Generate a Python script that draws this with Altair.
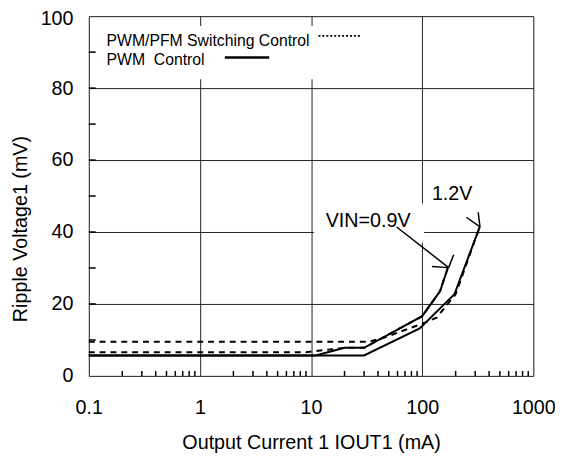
import altair as alt
import pandas as pd

# ---- data ----
I_pwm09 = [0.1, 11, 20, 30, 100, 145, 170]
V_pwm09 = [5.7, 5.7, 7.8, 7.8, 16.6, 23.6, 30.0]
I_pwm12 = [0.1, 30, 95, 195, 330]
V_pwm12 = [5.7, 5.7, 13.2, 22.7, 41.5]
I_pfm09 = [0.1, 9, 20, 30, 100, 145, 170]
V_pfm09 = [6.6, 6.6, 7.8, 7.8, 16.6, 23.6, 30.0]
I_pfm12 = [0.1, 33, 45, 100, 135, 200, 330]
V_pfm12 = [9.5, 9.5, 10.6, 14.5, 16.2, 22.7, 41.5]

x_ticks_major = [0.1, 1, 10, 100, 1000]
x_ticks_minor = [k * 10.0 ** d for d in range(-1, 3) for k in range(2, 10)]
y_ticks_major = [0, 20, 40, 60, 80, 100]
y_ticks_minor = [10, 20, 30, 40, 50, 60, 70, 80, 90]

# annotation arrows (segments, data coordinates)
arrow_x1 = [58.9, 173, 173, 331, 331]
arrow_y1 = [41.4, 30.1, 30.1, 41.4, 41.4]
arrow_x2 = [173, 122.5, 192, 250, 319]
arrow_y2 = [30.1, 30.4, 33.7, 44.1, 45.5]

labels_text = ["VIN=0.9V", "1.2V"]
labels_x = [32.6, 186]
labels_y = [41.4, 49.0]

legend_text = ["PWM/PFM Switching Control", "PWM\u00a0 Control"]
y_title = "Ripple Voltage1 (mV)"
x_title = "Output Current 1 IOUT1 (mA)"

W, H = 451, 365
FONT = "Liberation Sans"

xs = alt.Scale(type="log", domain=[0.1, 1000])
ys = alt.Scale(domain=[0, 100])

xaxis = alt.Axis(values=x_ticks_major, format="~g", grid=True, gridColor="#222",
                 gridWidth=1, ticks=False, tickSize=0, domain=False, labelFlush=False,
                 labelFont=FONT, labelFontSize=20, labelColor="black", labelPadding=22,
                 title=x_title, titleFont=FONT, titleFontSize=20,
                 titleFontWeight="normal", titleColor="black", titlePadding=16)
yaxis = alt.Axis(values=y_ticks_major, grid=True, gridColor="#222", gridWidth=1,
                 ticks=False, tickSize=0, domain=False, labelFlush=False,
                 labelOffset={"condition": {"test": "datum.value == 100", "value": 2}, "value": 0},
                 labelFont=FONT, labelFontSize=20, labelColor="black", labelPadding=16,
                 title="")

def series(I, V, name):
    return pd.DataFrame({"I": I, "V": V, "s": name, "o": range(len(I))})

base_axes = alt.Chart(pd.DataFrame({"I": [0.1, 1000], "V": [0, 100]})).mark_point(opacity=0).encode(
    x=alt.X("I:Q", scale=xs, axis=xaxis),
    y=alt.Y("V:Q", scale=ys, axis=yaxis),
)

ytitle = alt.Chart(pd.DataFrame({"t": [y_title]})).mark_text(
    font=FONT, fontSize=20, color="black", angle=270, align="center", baseline="middle").encode(
    x=alt.value(-69), y=alt.value(216), text="t:N")

xt = alt.Chart(pd.DataFrame({"I": x_ticks_minor})).mark_rule(color="black", strokeWidth=1.5).encode(
    x=alt.X("I:Q", scale=xs), y=alt.value(H), y2=alt.value(H - 5))
yt = alt.Chart(pd.DataFrame({"V": y_ticks_minor})).mark_rule(color="black", strokeWidth=1.5).encode(
    y=alt.Y("V:Q", scale=ys), x=alt.value(0), x2=alt.value(7))

# white boxes masking grid behind legend and label
legend_box = alt.Chart(pd.DataFrame({"a": [0]})).mark_rect(color="white").encode(
    x=alt.value(3), x2=alt.value(310), y=alt.value(10), y2=alt.value(64))
label_box = alt.Chart(pd.DataFrame({"x1": [10.6], "x2": [104], "y1": [37.0], "y2": [47.9]})).mark_rect(color="white").encode(
    x=alt.X("x1:Q", scale=xs), x2="x2:Q", y=alt.Y("y1:Q", scale=ys), y2="y2:Q")

def line(df, dash):
    kw = {"strokeDash": dash} if dash else {}
    return alt.Chart(df).mark_line(color="black", strokeWidth=2, **kw).encode(
        x=alt.X("I:Q", scale=xs), y=alt.Y("V:Q", scale=ys), order="o:Q")

l1 = line(series(I_pwm09, V_pwm09, "pwm09"), None)
l2 = line(series(I_pwm12, V_pwm12, "pwm12"), None)
l3 = line(series(I_pfm09, V_pfm09, "pfm09"), [6, 5])
l4 = line(series(I_pfm12, V_pfm12, "pfm12"), [6, 5])

arrows = alt.Chart(pd.DataFrame({"x1": arrow_x1, "y1": arrow_y1, "x2": arrow_x2, "y2": arrow_y2})).mark_rule(
    color="black", strokeWidth=1.5).encode(
    x=alt.X("x1:Q", scale=xs), y=alt.Y("y1:Q", scale=ys), x2="x2:Q", y2="y2:Q")

labels = alt.Chart(pd.DataFrame({"t": labels_text, "I": labels_x, "V": labels_y})).mark_text(
    font=FONT, fontSize=20, color="black", align="center", baseline="alphabetic").encode(
    x=alt.X("I:Q", scale=xs), y=alt.Y("V:Q", scale=ys), text="t:N")

leg_t1 = alt.Chart(pd.DataFrame({"t": [legend_text[0]]})).mark_text(
    font=FONT, fontSize=16, color="black", align="left", baseline="alphabetic").encode(
    x=alt.value(18), y=alt.value(30), text="t:N")
leg_t2 = alt.Chart(pd.DataFrame({"t": [legend_text[1]]})).mark_text(
    font=FONT, fontSize=16, color="black", align="left", baseline="alphabetic").encode(
    x=alt.value(18), y=alt.value(50), text="t:N")
leg_l1 = alt.Chart(pd.DataFrame({"a": [0]})).mark_rule(color="black", strokeWidth=2, strokeDash=[2, 2]).encode(
    x=alt.value(233), x2=alt.value(276), y=alt.value(20))
leg_l2 = alt.Chart(pd.DataFrame({"a": [0]})).mark_rule(color="black", strokeWidth=2.5).encode(
    x=alt.value(138), x2=alt.value(183), y=alt.value(42))

chart = alt.layer(
    base_axes, ytitle, legend_box, label_box, xt, yt, l3, l4, l1, l2, arrows, labels,
    leg_t1, leg_t2, leg_l1, leg_l2
).properties(
    width=W, height=H,
    autosize=alt.AutoSizeParams(type="none"),
    padding={"left": 82, "top": 5, "right": 22, "bottom": 78},
).configure_view(
    stroke="black", strokeWidth=2
).configure(background="white")

chart.save("out.html", embed_options={"renderer": "svg", "actions": False})
